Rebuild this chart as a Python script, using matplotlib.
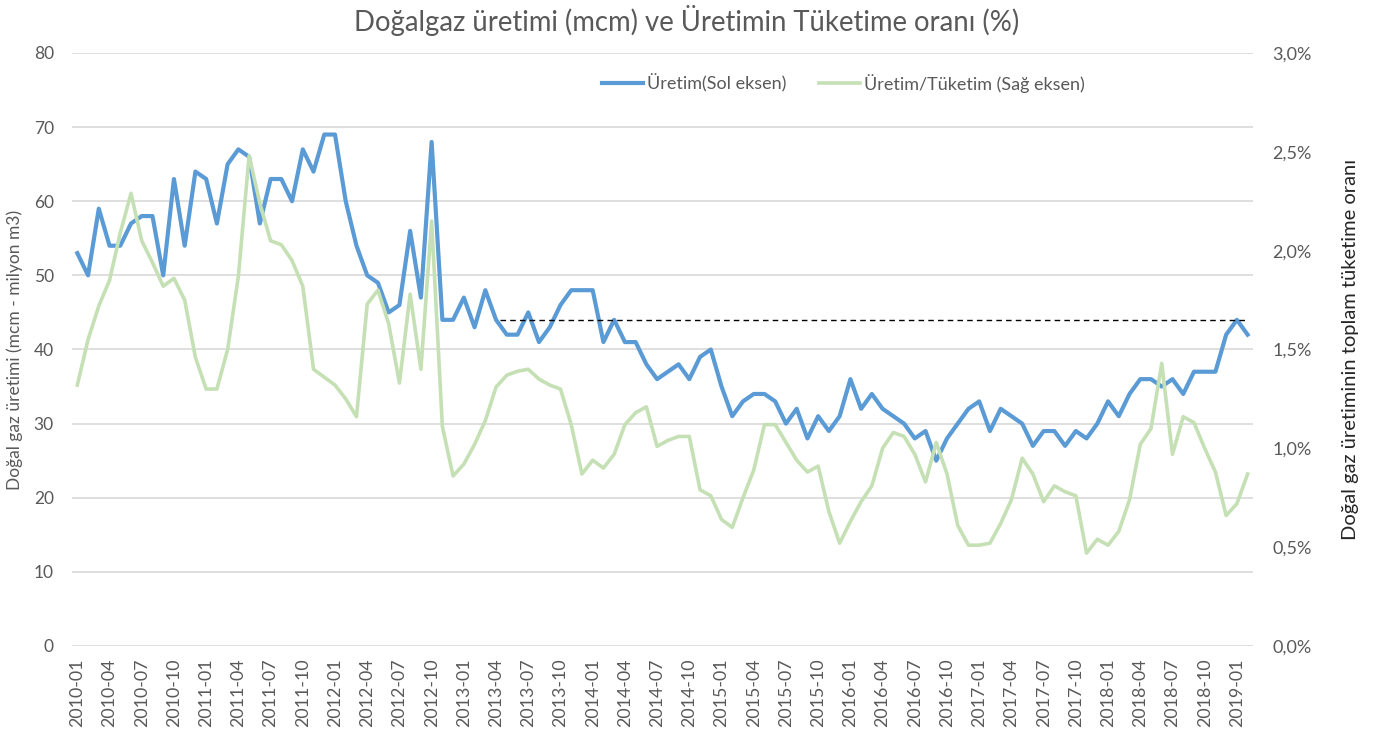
import numpy as np
import pandas as pd
import matplotlib
matplotlib.use("Agg")
import matplotlib.pyplot as plt
from matplotlib.ticker import FuncFormatter, MultipleLocator

plt.rcParams["font.family"] = ["Lato", "DejaVu Sans"]

# ── data (monthly, 2010-01 .. 2019-02) ------------------------------------ #
months = [p.strftime("%Y-%m") for p in pd.period_range("2010-01", "2019-02", freq="M")]

production_mcm = [
    53, 50, 59, 54, 54, 57, 58, 58, 50, 63, 54, 64,   # 2010
    63, 57, 65, 67, 66, 57, 63, 63, 60, 67, 64, 69,   # 2011
    69, 60, 54, 50, 49, 45, 46, 56, 47, 68, 44, 44,   # 2012
    47, 43, 48, 44, 42, 42, 45, 41, 43, 46, 48, 48,   # 2013
    48, 41, 44, 41, 41, 38, 36, 37, 38, 36, 39, 40,   # 2014
    35, 31, 33, 34, 34, 33, 30, 32, 28, 31, 29, 31,   # 2015
    36, 32, 34, 32, 31, 30, 28, 29, 25, 28, 30, 32,   # 2016
    33, 29, 32, 31, 30, 27, 29, 29, 27, 29, 28, 30,   # 2017
    33, 31, 34, 36, 36, 35, 36, 34, 37, 37, 37, 42,   # 2018
    44, 42,                                           # 2019
]

ratio_pct = [
    1.32, 1.55, 1.72, 1.85, 2.09, 2.29, 2.05, 1.94, 1.82, 1.86, 1.75, 1.46,
    1.30, 1.30, 1.50, 1.87, 2.48, 2.24, 2.05, 2.03, 1.95, 1.82, 1.40, 1.36,
    1.32, 1.25, 1.16, 1.73, 1.80, 1.63, 1.33, 1.78, 1.40, 2.15, 1.11, 0.86,
    0.92, 1.02, 1.14, 1.31, 1.37, 1.39, 1.40, 1.35, 1.32, 1.30, 1.12, 0.87,
    0.94, 0.90, 0.97, 1.12, 1.18, 1.21, 1.01, 1.04, 1.06, 1.06, 0.79, 0.76,
    0.64, 0.60, 0.75, 0.89, 1.12, 1.12, 1.03, 0.94, 0.88, 0.91, 0.68, 0.52,
    0.63, 0.73, 0.81, 1.00, 1.08, 1.06, 0.97, 0.83, 1.03, 0.87, 0.61, 0.51,
    0.51, 0.52, 0.62, 0.74, 0.95, 0.87, 0.73, 0.81, 0.78, 0.76, 0.47, 0.54,
    0.51, 0.58, 0.74, 1.02, 1.10, 1.43, 0.97, 1.16, 1.13, 1.00, 0.88, 0.66,
    0.72, 0.87,
]

# reference level (dashed line) from 2013-04 to the end
ref_level = 44
ref_start, ref_end = "2013-04", "2019-02"

# ── plot ------------------------------------------------------------------- #
blue, green, grey = "#5B9BD5", "#C5E0B4", "#595959"
x = np.arange(len(months))

fig = plt.figure(figsize=(13.73, 7.31), dpi=100)
ax = fig.add_axes([0.0524, 0.1163, 0.8602, 0.8112])
ax2 = ax.twinx()

ax.plot(x, production_mcm, color=blue, lw=3.0, solid_joinstyle="round", label="Üretim(Sol eksen)")
ax2.plot(x, np.array(ratio_pct) / 100, color=green, lw=2.6, solid_joinstyle="round",
         label="Üretim/Tüketim (Sağ eksen)")
ax.plot([months.index(ref_start) + 0.4, months.index(ref_end) - 0.2], [ref_level, ref_level],
        color="black", lw=1.0, ls=(0, (4, 3)))

ax.set_xlim(-0.5, len(months) - 0.5)
ax.set_ylim(0, 80)
ax.yaxis.set_major_locator(MultipleLocator(10))
ax2.set_ylim(0, 0.03)
ax2.yaxis.set_major_locator(MultipleLocator(0.005))
ax2.yaxis.set_major_formatter(FuncFormatter(lambda v, _: f"{v*100:.1f}%".replace(".", ",")))

ax.set_xticks(x[::3])
ax.set_xticklabels(months[::3], rotation=90, fontsize=12.8, color=grey)
ax.grid(axis="y", color="#D9D9D9", lw=1.2)
ax.set_axisbelow(True)
for a in (ax, ax2):
    for s in a.spines.values():
        s.set_visible(False)
    a.tick_params(length=0)
ax.tick_params(axis="y", labelsize=12.5, colors=grey, pad=13)
ax.tick_params(axis="x", pad=9)
ax2.tick_params(axis="y", labelsize=13, colors=grey, pad=14)

ax.set_ylabel("Doğal gaz üretimi (mcm - milyon m3)", fontsize=12.5, color=grey, labelpad=8)
ax2.set_ylabel("Doğal gaz üretiminin toplam tüketime oranı", fontsize=14.5, color="#262626", labelpad=22)
fig.text(0.5, 1 - 20 / 731, "Doğalgaz üretimi (mcm) ve Üretimin Tüketime oranı (%)",
         fontsize=19.8, color=grey, ha="center", va="center")

h1, l1 = ax.get_legend_handles_labels()
h2, l2 = ax2.get_legend_handles_labels()
leg = ax2.legend(h1 + h2, l1 + l2, ncol=2, frameon=False, loc="center", bbox_to_anchor=(0.653, 0.949),
                 fontsize=13, handlelength=2.3, handletextpad=0.2, columnspacing=1.8)
for t in leg.get_texts():
    t.set_color(grey)

fig.savefig("out.png", dpi=100)
